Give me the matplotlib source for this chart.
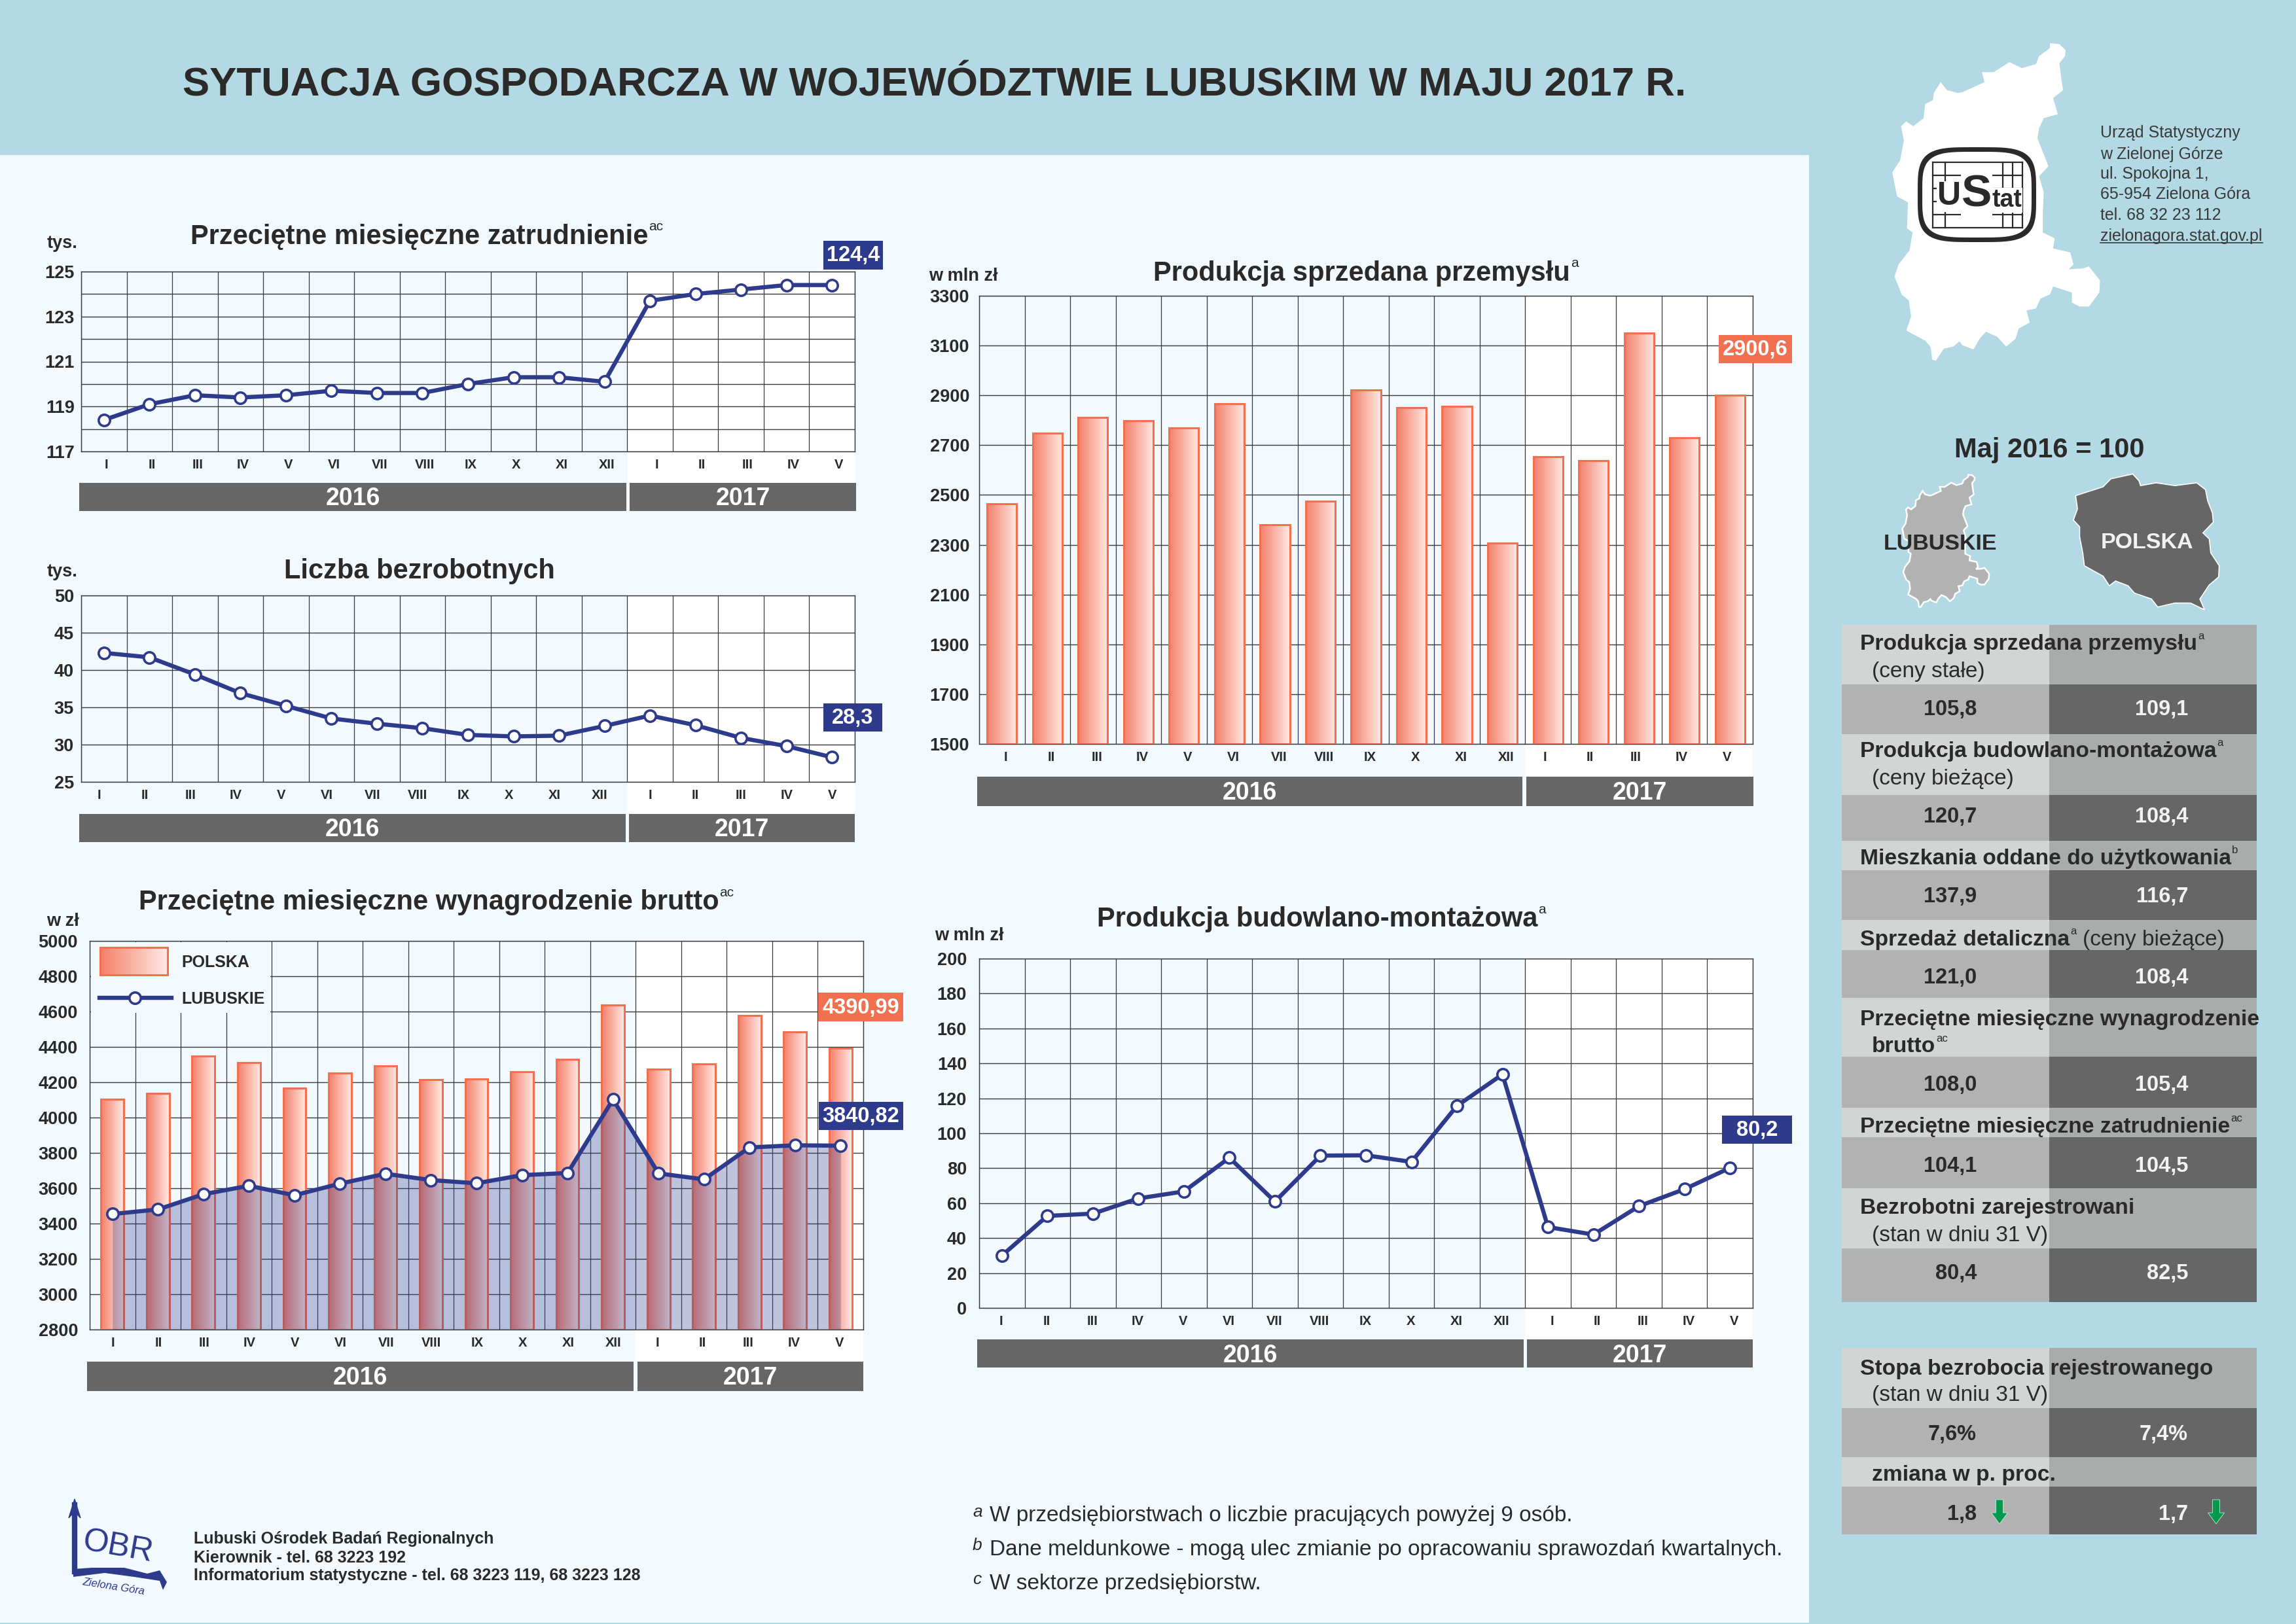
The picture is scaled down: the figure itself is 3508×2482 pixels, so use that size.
import numpy as np
import matplotlib
matplotlib.use("Agg")
import matplotlib.pyplot as plt
from matplotlib.colors import LinearSegmentedColormap
from matplotlib.patches import Rectangle, Polygon

plt.rcParams["font.family"] = ["Liberation Sans", "DejaVu Sans"]

W, H = 3508, 2482

# data
months = ["I", "II", "III", "IV", "V", "VI", "VII", "VIII", "IX", "X", "XI", "XII",
          "I", "II", "III", "IV", "V"]
zatrudnienie = [118.4, 119.1, 119.5, 119.4, 119.5, 119.7, 119.6, 119.6, 120.0, 120.3, 120.3, 120.1,
                123.7, 124.0, 124.2, 124.4, 124.4]
bezrobotni = [42.3, 41.7, 39.4, 36.9, 35.2, 33.5, 32.8, 32.2, 31.3, 31.1, 31.2, 32.5,
              33.9, 32.6, 30.9, 29.8, 28.3]
wynagrodzenie_pl = [4104, 4138, 4350, 4310, 4168, 4252, 4292, 4214, 4220, 4258, 4330, 4637,
                    4274, 4302, 4577, 4485, 4390.99]
wynagrodzenie_lub = [3454, 3480, 3566, 3614, 3560, 3626, 3682, 3646, 3628, 3674, 3686, 4102,
                     3684, 3650, 3831, 3843, 3840.82]
prod_przem = [2465, 2748, 2810, 2798, 2770, 2866, 2379, 2475, 2921, 2851, 2857, 2307,
              2654, 2639, 3150, 2729, 2900.6]
prod_bud = [30, 52.7, 54, 62.7, 66.7, 86, 60.9, 87.2, 87.4, 83.6, 115.7, 133.7,
            46.3, 42, 58.3, 68, 80.2]

# side table: header lines, value Lubuskie, value Polska
tabela_naglowki = [
    ("Produkcja sprzedana przemysłu", "a", "(ceny stałe)"),
    ("Produkcja budowlano-montażowa", "a", "(ceny bieżące)"),
    ("Mieszkania oddane do użytkowania", "b", ""),
    ("Sprzedaż detaliczna", "a", ""),
    ("Przeciętne miesięczne wynagrodzenie", "", "brutto"),
    ("Przeciętne miesięczne zatrudnienie", "ac", ""),
    ("Bezrobotni zarejestrowani", "", "(stan w dniu 31 V)"),
]
tabela_lub = ["105,8", "120,7", "137,9", "121,0", "108,0", "104,1", "80,4"]
tabela_pl = ["109,1", "108,4", "116,7", "108,4", "105,4", "104,5", "82,5"]

# outlines of the maps (traced, in zoom units of the right column)
lubuskie_kontur = [(780,108),(810,110),(830,125),(828,140),(810,158),(815,190),(822,225),(790,245),
    (805,285),(760,295),(745,320),(740,345),(755,375),(775,415),(745,440),(760,480),(757,530),(757,580),
    (795,595),(790,620),(845,630),(855,660),(840,672),(885,670),(905,665),(940,700),(938,730),(905,765),
    (875,765),(850,755),(850,730),(790,715),(780,735),(750,745),(735,770),(705,775),(715,805),(680,820),
    (670,845),(640,865),(610,840),(575,828),(555,845),(535,872),(500,862),(490,852),(470,865),(440,870),
    (415,900),(403,898),(397,865),(380,850),(320,825),(335,790),(328,750),(305,735),(282,690),(295,660),
    (330,625),(340,580),(322,570),(325,505),(290,490),(275,430),(300,400),(312,350),(303,315),(320,303),
    (342,315),(375,295),(380,260),(405,250),(408,232),(430,205),(450,225),(485,232),(500,230),(570,205),
    (562,180),(600,180),(650,155),(690,170),(735,160),(745,140),(780,120)]
polska_kontur = [(862,1237),(950,1215),(975,1195),(1045,1183),(1065,1200),(1070,1212),(1120,1205),
    (1180,1212),(1250,1205),(1278,1222),(1285,1250),(1300,1280),(1303,1303),(1270,1330),(1290,1345),
    (1295,1380),(1322,1412),(1320,1440),(1290,1460),(1260,1495),(1275,1522),(1230,1505),(1180,1505),
    (1125,1515),(1105,1495),(1050,1480),(1030,1462),(990,1450),(970,1462),(950,1438),(890,1412),
    (885,1380),(875,1340),(875,1315),(855,1298),(868,1270)]

BLUE = "#2E3A8C"
ORANGE = "#F1704F"
DARK = "#2B2A29"
PANEL = "#F2F9FF"
BAND = "#B2D9E4"
YEARBAR = "#666666"
gradient = LinearSegmentedColormap.from_list("bar", ["#F3806A", "#FFE9E3"])

fig = plt.figure(figsize=(W / 100, H / 100), dpi=100, facecolor=BAND)


def pixel_axes(z):
    a = fig.add_axes([0, 0, 1, 1], zorder=z, facecolor="none")
    a.set_xlim(0, W)
    a.set_ylim(H, 0)
    a.axis("off")
    return a


bg = pixel_axes(0)
fg = pixel_axes(10)
renderer = fig.canvas.get_renderer()


def put(a, x, y, s, size, bold=True, ha="left", color=DARK, **kw):
    return a.text(x, y, s, fontsize=size, fontweight="bold" if bold else "normal",
                  ha=ha, va="center", color=color, **kw)


def with_sup(a, x, y, s, sup, size, ha="left", color=DARK):
    # text followed by a small raised mark, returns the right edge in pixels
    t = put(a, x, y, s, size, ha=ha, color=color)
    right = t.get_window_extent(renderer).x1
    if sup:
        t2 = put(a, right + 1, y - size * 0.5, sup, size * 0.5, bold=False, color=color)
        right = t2.get_window_extent(renderer).x1
    return right


def chart(box, ylim, yticks, ylabels, ypad, off16, off17, split, bars16, bars17, yby):
    l, t, r, b = box
    bg.add_patch(Rectangle((split, t), r - split, bars16[0] - t, fc="white", ec="none"))
    y0, y1 = bars16[0], bars16[0] + yby
    for (x0, x1), year in ((bars16[1], "2016"), (bars17, "2017")):
        bg.add_patch(Rectangle((x0, y0), x1 - x0, y1 - y0, fc=YEARBAR, ec="none"))
        put(bg, (x0 + x1) / 2, (y0 + y1) / 2 + 3, year, 27, ha="center", color="white")
    ax = fig.add_axes([l / W, 1 - b / H, (r - l) / W, (b - t) / H], zorder=2, facecolor="none")
    ax.set_xlim(0, 17)
    ax.set_ylim(*ylim)
    centers = np.arange(17) + 0.5
    shift = [off16 / 69.5] * 12 + [off17 / 69.5] * 5
    ax.set_xticks(centers + np.array(shift))
    ax.set_xticklabels(months)
    ax.set_xticks(np.arange(18), minor=True)
    ax.set_yticks(yticks)
    ax.set_yticklabels(ylabels)
    ax.set_axisbelow(True)
    ax.grid(which="minor", axis="x", color="#3A3A3A", lw=0.9)
    ax.grid(which="major", axis="y", color="#3A3A3A", lw=1.0)
    ax.grid(which="major", axis="x", visible=False)
    ax.tick_params(axis="both", which="both", length=0)
    ax.tick_params(axis="x", pad=8, labelsize=14.5, labelcolor=DARK)
    ax.tick_params(axis="y", pad=ypad * 0.72, labelsize=19.5, labelcolor=DARK)
    for lab in ax.get_xticklabels() + ax.get_yticklabels():
        lab.set_fontweight("bold")
    for s in ax.spines.values():
        s.set_color("#3A3A3A")
        s.set_linewidth(1.0)
    return ax, centers


def draw_bars(ax, centers, values, width):
    rects = ax.bar(centers, np.array(values) - ax.get_ylim()[0], width, bottom=ax.get_ylim()[0],
                   fc="none", ec=ORANGE, lw=2.2, zorder=3)
    for rc in rects:
        ax.imshow(np.linspace(0, 1, 64).reshape(1, -1), cmap=gradient, aspect="auto", zorder=2,
                  extent=[rc.get_x(), rc.get_x() + rc.get_width(), rc.get_y(), rc.get_y() + rc.get_height()])
    ax.set_xlim(0, 17)


def draw_line(ax, centers, values):
    ax.plot(centers, values, color=BLUE, lw=4.6, marker="o", ms=12.5, mfc="white", mec=BLUE, mew=2.6,
            zorder=5, clip_on=False)


def tag(x0, x1, y0, y1, s, color):
    fg.add_patch(Rectangle((x0, y0), x1 - x0, y1 - y0, fc=color, ec="none"))
    put(fg, (x0 + x1) / 2, (y0 + y1) / 2 + 1, s, 23.5, ha="center", color="white")


# page background
bg.add_patch(Rectangle((0, 237), 2764, 2243, fc=PANEL, ec="none"))
put(bg, 1428, 131, "SYTUACJA GOSPODARCZA W WOJEWÓDZTWIE LUBUSKIM W MAJU 2017 R.", 44.6, ha="center")

# zatrudnienie
ax1, c1 = chart((124, 415, 1306, 690), (117, 125), list(range(117, 126)),
                ["117", "", "119", "", "121", "", "123", "", "125"], 10, 4, 10, 959,
                (738, (121, 957)), (962, 1308), 43)
draw_line(ax1, c1, zatrudnienie)
with_sup(bg, 291, 362, "Przeciętne miesięczne zatrudnienie", "ac", 30)
put(bg, 72, 372, "tys.", 19.5)
tag(1258, 1349, 368, 412, "124,4", BLUE)

# bezrobotni
ax2, c2 = chart((124, 910, 1306, 1195), (25, 50), list(range(25, 51, 5)),
                [str(v) for v in range(25, 51, 5)], 11, -7, 0, 958,
                (1244, (121, 956)), (961, 1306), 43)
draw_line(ax2, c2, bezrobotni)
with_sup(bg, 434, 873, "Liczba bezrobotnych", "", 30)
put(bg, 72, 874, "tys.", 19.5)
tag(1258, 1348, 1075, 1118, "28,3", BLUE)

# wynagrodzenie
ax3, c3 = chart((137, 1438, 1319, 2032), (2800, 5000), list(range(2800, 5001, 200)),
                [str(v) for v in range(2800, 5001, 200)], 18, 1, -2, 971,
                (2081, (133, 968)), (974, 1319), 45)
draw_bars(ax3, c3, wynagrodzenie_pl, 0.5)
ax3.fill_between(c3, wynagrodzenie_lub, 2800, color=BLUE, alpha=0.30, lw=0, zorder=4)
draw_line(ax3, c3, wynagrodzenie_lub)
with_sup(bg, 212, 1379, "Przeciętne miesięczne wynagrodzenie brutto", "ac", 30)
put(bg, 71, 1408, "w zł", 19.5)
tag(1250, 1380, 1517, 1561, "4390,99", ORANGE)
tag(1251, 1380, 1684, 1727, "3840,82", BLUE)

# legend of the wage chart sits on a plain box
leg = pixel_axes(6)
leg.add_patch(Rectangle((139, 1440), 274, 108, fc=PANEL, ec="none"))
leg.imshow(np.linspace(0, 1, 64).reshape(1, -1), cmap=gradient, aspect="auto", zorder=3,
           extent=[153, 256, 1490, 1448])
leg.add_patch(Rectangle((153, 1448), 103, 42, fc="none", ec=ORANGE, lw=2.2, zorder=4))
leg.set_xlim(0, W)
leg.set_ylim(H, 0)
leg.plot([152, 262], [1525, 1525], color=BLUE, lw=4.6, zorder=3)
leg.plot([206], [1525], color=BLUE, marker="o", ms=12.5, mfc="white", mec=BLUE, mew=2.6, zorder=4)
put(leg, 277, 1471, "POLSKA", 18)
put(leg, 277, 1527, "LUBUSKIE", 18)

# produkcja sprzedana
ax4, c4 = chart((1496, 452, 2678, 1137), (1500, 3300), list(range(1500, 3301, 200)),
                [str(v) for v in range(1500, 3301, 200)], 15, 6, -5, 2330,
                (1187, (1493, 2326)), (2332, 2679), 45)
draw_bars(ax4, c4, prod_przem, 0.65)
with_sup(bg, 1762, 418, "Produkcja sprzedana przemysłu", "a", 30)
put(bg, 1419, 422, "w mln zł", 19.5)
tag(2626, 2738, 512, 555, "2900,6", ORANGE)

# produkcja budowlano-montazowa
ax5, c5 = chart((1496, 1465, 2678, 1999), (0, 200), list(range(0, 201, 20)),
                [str(v) for v in range(0, 201, 20)], 19, -1, 6, 2330,
                (2047, (1493, 2328)), (2333, 2678), 43)
draw_line(ax5, c5, prod_bud)
with_sup(bg, 1676, 1405, "Produkcja budowlano-montażowa", "a", 30)
put(bg, 1428, 1430, "w mln zł", 19.5)
tag(2631, 2738, 1705, 1748, "80,2", BLUE)


# right column: maps and logo
def from_zoom(pts):
    return [(x / 2.096 + 2760, y / 1.633) for x, y in pts]


big = from_zoom(lubuskie_kontur)
bg.add_patch(Polygon(big, fc="white", ec="none"))
small = from_zoom([(307 + (x - 275) * 0.418, 1185 + (y - 108) * 0.417) for x, y in lubuskie_kontur])
bg.add_patch(Polygon(small, fc="#B2B2B2", ec="white", lw=1.8))
bg.add_patch(Polygon(from_zoom(polska_kontur), fc="#666666", ec="white", lw=1.2))
put(fg, 2964, 831, "LUBUSKIE", 24.5, ha="center")
put(fg, 3280, 830, "POLSKA", 24.5, ha="center", color="#F2F2F2")
put(fg, 3131, 688, "Maj 2016 = 100", 30, ha="center")

# USTAT logo
tt = np.linspace(0, 2 * np.pi, 160)
for a, bb, col in ((90.5, 72.5, DARK), (83.5, 65.5, "white")):
    xs = 3020.5 + a * np.sign(np.cos(tt)) * np.abs(np.cos(tt)) ** 0.5
    ys = 297.5 + bb * np.sign(np.sin(tt)) * np.abs(np.sin(tt)) ** 0.5
    bg.add_patch(Polygon(np.column_stack([xs, ys]), fc=col, ec="none"))
for gy in (248, 268, 288, 308, 328, 348):
    bg.plot([2953, 3090], [gy, gy], color=DARK, lw=1.6)
for gx in (2953, 2972, 3060, 3075, 3090):
    bg.plot([gx, gx], [248, 348], color=DARK, lw=1.6)
for s, x, y, size in (("U", 2978, 300, 36), ("S", 3020, 297, 50), ("tat", 3066, 306, 27)):
    fg.text(x, y, s, fontsize=size, fontweight="bold", ha="center", va="center", color=DARK,
            bbox=dict(fc="white", ec="none", pad=0.5))

adres = ["Urząd Statystyczny", "w Zielonej Górze", "ul. Spokojna 1,", "65-954 Zielona Góra",
         "tel. 68 32 23 112", "zielonagora.stat.gov.pl"]
for s, y in zip(adres, (203, 236, 266, 297, 329, 361)):
    put(bg, 3209, y, s, 18, bold=False, color="#3A3A3A")
bg.plot([3209, 3457], [371, 371], color="#3A3A3A", lw=1.2)

# side table
XL, XM, XR = 2814, 3131, 3448
HEAD_L, HEAD_R, VAL_L, VAL_R = "#D1D6D5", "#A8ACAB", "#B2B2B2", "#666666"


def table_row(y0, y1, head):
    bg.add_patch(Rectangle((XL, y0), XM - XL, y1 - y0, fc=HEAD_L if head else VAL_L, ec="none"))
    bg.add_patch(Rectangle((XM, y0), XR - XM, y1 - y0, fc=HEAD_R if head else VAL_R, ec="none"))


granice = [955, 1046, 1122, 1215, 1285, 1330, 1406, 1452, 1525, 1615, 1693, 1738, 1816, 1908, 1990]
for i in range(14):
    table_row(granice[i], granice[i + 1], i % 2 == 0)

y_head = [(983, 1024), (1146, 1188), (1310, None), (1434, None), (1556, 1598), (1720, None), (1844, 1886)]
y_val = [1083, 1247, 1370, 1493, 1657, 1781, 1945]
for (glowny, sup, drugi), (y1, y2), yv, lub, pl in zip(tabela_naglowki, y_head, y_val, tabela_lub, tabela_pl):
    right = with_sup(fg, 2842, y1 + 2, glowny, sup, 24.2)
    if y2 is not None:
        if drugi == "brutto":
            with_sup(fg, 2860, y2 + 2, drugi, "ac", 24.2)
        else:
            put(fg, 2860, y2 + 2, drugi, 24, bold=False)
    if glowny.startswith("Sprzedaż"):
        put(fg, right + 9, y1 + 2, "(ceny bieżące)", 24, bold=False)
    put(fg, 3020, yv + 1, lub, 23.5, ha="right")
    put(fg, 3343, yv + 1, pl, 23.5, ha="right", color="#F2F2F2")

for i, (y0, y1) in enumerate(((2060, 2152), (2152, 2227), (2227, 2272), (2272, 2345))):
    table_row(y0, y1, i % 2 == 0)
put(fg, 2842, 2092, "Stopa bezrobocia rejestrowanego", 24.2)
put(fg, 2860, 2132, "(stan w dniu 31 V)", 24, bold=False)
put(fg, 3020, 2193, "7,6%", 23.5, ha="right")
put(fg, 3343, 2193, "7,4%", 23.5, ha="right", color="#F2F2F2")
put(fg, 2860, 2255, "zmiana w p. proc.", 24.2)
put(fg, 3020, 2314, "1,8", 23.5, ha="right")
put(fg, 3343, 2314, "1,7", 23.5, ha="right", color="#F2F2F2")
for ax_x in (3055, 3386):
    fg.add_patch(Polygon([(ax_x - 5.5, 2292), (ax_x + 5.5, 2292), (ax_x + 5.5, 2312), (ax_x + 12.5, 2312),
                          (ax_x, 2329), (ax_x - 12.5, 2312), (ax_x - 5.5, 2312)],
                         fc="#009A4E", ec="#CFE8DA", lw=0.6))

# LOBR logo
bg.plot([114, 114], [2300, 2402], color=BLUE, lw=6)
bg.add_patch(Polygon([(114, 2291), (123, 2320), (114, 2310), (105, 2320)], fc=BLUE, ec=BLUE))
bg.add_patch(Polygon([(112, 2398), (140, 2396), (190, 2396), (225, 2405), (244, 2400), (255, 2418), (249, 2430),
                      (244, 2416), (205, 2410), (160, 2404), (112, 2410)], fc=BLUE, ec="none"))
put(bg, 180, 2365, "OBR", 36, bold=False, ha="center", color=BLUE, rotation=-10)
bg.text(174, 2425, "Zielona Góra", fontsize=12, style="italic", color=BLUE, ha="center", va="center", rotation=-9)

# footer
put(bg, 296, 2352, "Lubuski Ośrodek Badań Regionalnych", 18)
put(bg, 296, 2381, "Kierownik - tel. 68 3223 192", 18)
put(bg, 296, 2408, "Informatorium statystyczne - tel. 68 3223 119, 68 3223 128", 18)

footnotes = [("a", "W przedsiębiorstwach o liczbie pracujących powyżej 9 osób.", 2317),
             ("b", "Dane meldunkowe - mogą ulec zmianie po opracowaniu sprawozdań kwartalnych.", 2368),
             ("c", "W sektorze przedsiębiorstw.", 2420)]
for mark, s, y in footnotes:
    bg.text(1486, y - 6, mark, fontsize=19, style="italic", color=DARK, va="center")
    put(bg, 1512, y, s, 24, bold=False)

fig.savefig("out.png", dpi=100, facecolor=BAND)
